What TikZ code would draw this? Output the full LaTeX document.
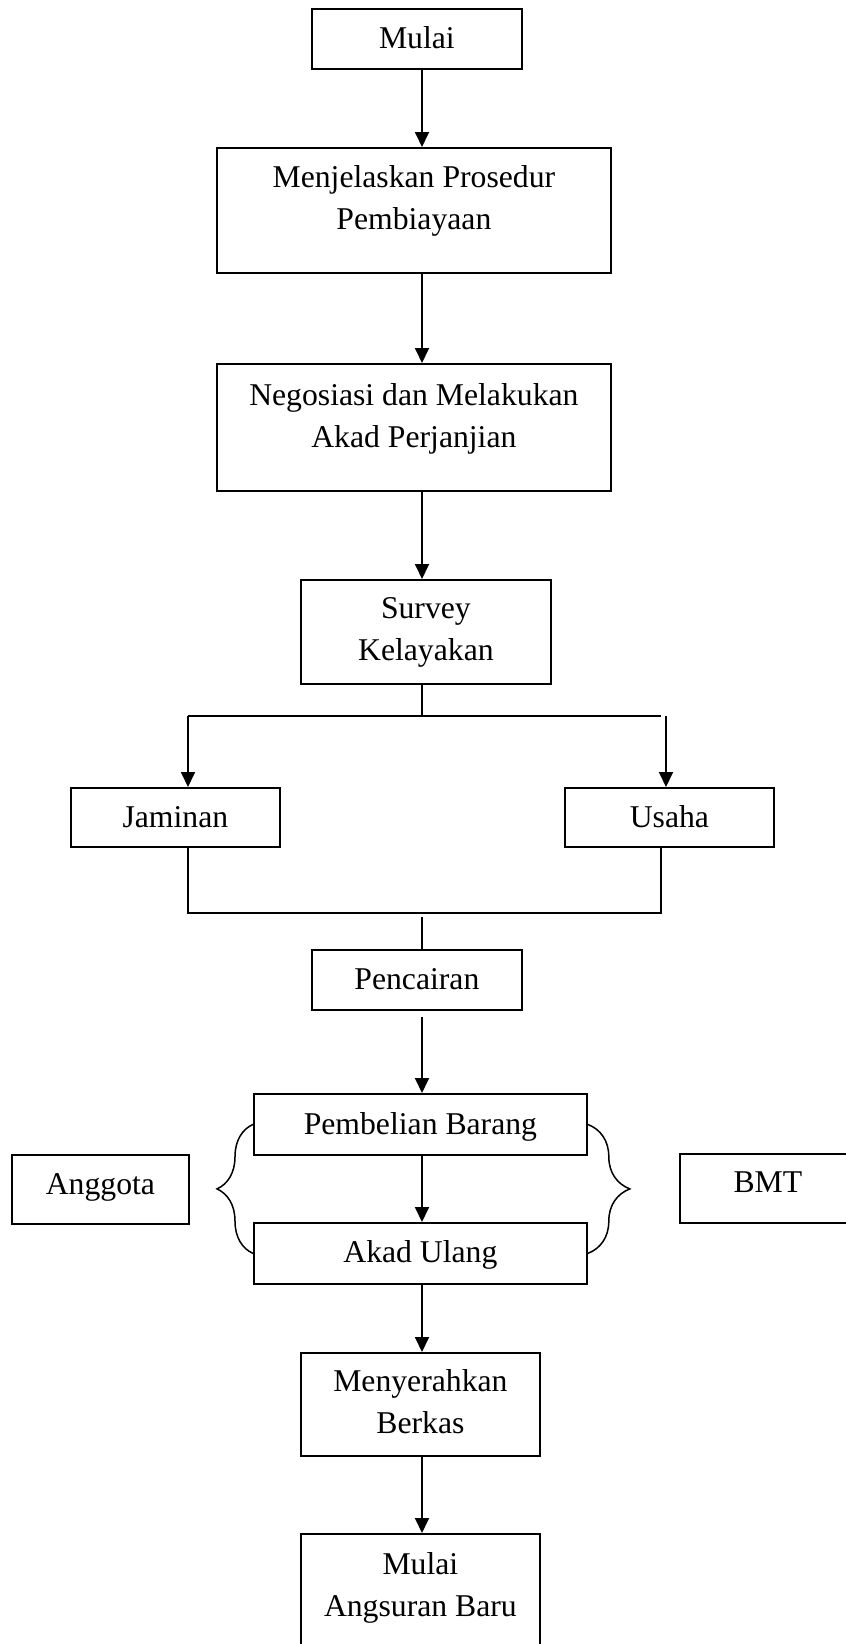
\documentclass[tikz,border=0pt]{standalone}
\usepackage{fontspec}
\setmainfont{Liberation Serif}
\usetikzlibrary{arrows.meta,positioning,calc,decorations.pathreplacing}

\begin{document}
\begin{tikzpicture}[x=1pt,y=-1pt,
  box/.style={draw,line width=1.8pt,inner sep=0pt,align=center,anchor=north west,text height=40pt,font=\fontsize{31.7}{42}\selectfont},
  lnk/.style={-{Triangle[length=15pt,width=14pt]},line width=1.8pt},
  wire/.style={line width=1.8pt},
  brc/.style={decorate,decoration={brace,amplitude=#1},line width=1.5pt}]
\useasboundingbox (0,0) rectangle (846,1644);
\coordinate (sp) at (422,0);
% main column
\node[box,minimum width=210pt,text depth=20pt] (mulai) at (311,8) {Mulai};
\node[box,minimum width=394pt,text height=82pt,text depth=43pt] (jelas) at (216,147) {Menjelaskan Prosedur\\Pembiayaan};
\node[box,minimum width=394pt,text height=84pt,text depth=43pt] (nego) at (216,363) {Negosiasi dan Melakukan\\Akad Perjanjian};
\node[box,minimum width=250pt,text height=81pt,text depth=23pt] (survey) at (300,579) {Survey\\Kelayakan};
\draw[lnk] (mulai.south -| sp) -- (jelas.north -| sp);
\draw[lnk] (jelas.south -| sp) -- (nego.north -| sp);
\draw[lnk] (nego.south -| sp) -- (survey.north -| sp);
% survey split
\node[box,minimum width=209pt,text depth=19pt] (jaminan) at (70,787) {Jaminan};
\node[box,minimum width=209pt,text depth=19pt] (usaha) at (564,787) {Usaha};
\coordinate (jl) at (188,716);
\coordinate (jr) at (661,716);
\coordinate (ur) at (666,716);
\draw[wire] (survey.south -| sp) -- (sp |- jl);
\draw[wire] (jl) -- (jr);
\draw[lnk] (jl) -- (jaminan.north -| jl);
\draw[lnk] (ur) -- (usaha.north -| ur);
% join
\node[box,minimum width=210pt,text depth=20pt] (cair) at (311,949) {Pencairan};
\coordinate (kl) at (188,913);
\coordinate (kr) at (661,913);
\draw[wire] (jaminan.south -| kl) -- (kl) -- (kr) -- (usaha.south -| kr);
\draw[wire] ([yshift=-4pt]sp |- kl) -- (cair.north -| sp);
% purchase and re-contract
\node[box,minimum width=333pt,text depth=20pt,text height=41pt] (beli) at (253,1093) {Pembelian Barang};
\node[box,minimum width=333pt,text depth=21pt] (ulang) at (253,1222) {Akad Ulang};
\node[box,minimum width=177pt,text depth=29pt] (anggota) at (11,1154) {Anggota};
\node[box,minimum width=176pt,text depth=30pt,text height=39pt] (bmt) at (679,1153) {BMT};
\draw[lnk,shorten <=6pt] (cair.south -| sp) -- (beli.north -| sp);
\draw[lnk] (beli.south -| sp) -- (ulang.north -| sp);
\draw[brc=36pt] (ulang.west) -- (beli.west);
\draw[brc=42pt] (beli.east) -- (ulang.east);
% handover
\node[box,minimum width=239pt,text height=81pt,text depth=22pt] (serah) at (300,1352) {Menyerahkan\\Berkas};
\node[box,minimum width=239pt,text height=83pt,text depth=39pt] (angsur) at (300,1533) {Mulai\\Angsuran Baru};
\draw[lnk] (ulang.south -| sp) -- (serah.north -| sp);
\draw[lnk] (serah.south -| sp) -- (angsur.north -| sp);
\end{tikzpicture}
\end{document}
